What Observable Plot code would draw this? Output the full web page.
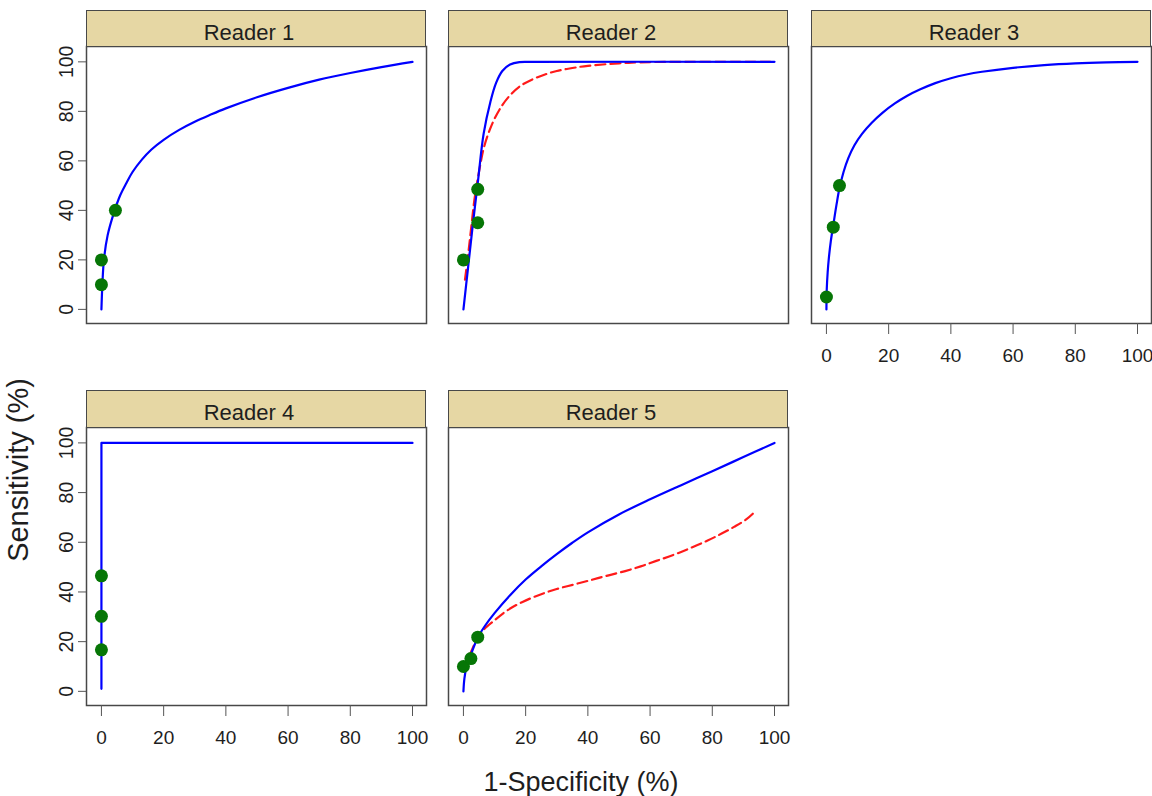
<!DOCTYPE html>
<html>
<head>
<meta charset="utf-8">
<script src="https://cdn.jsdelivr.net/npm/d3@7"></script>
<script src="https://cdn.jsdelivr.net/npm/@observablehq/plot@0.6"></script>
<style>
  body { margin: 0; background: #fff; font-family: "Liberation Sans", Arial, sans-serif; }
  #chart { position: relative; width: 1152px; height: 796px; overflow: hidden; background: #fff; }
  .panel { position: absolute; }
  .strip { position: absolute; box-sizing: border-box; background: #e6d7a4; border: 1.5px solid #484848;
           text-align: center; font-size: 22px; line-height: 22px; color: #1e1e1e; padding-top: 11px; padding-right: 14px; }
  .title { position: absolute; line-height: 30px; color: #1e1e1e; text-align: center; white-space: nowrap; }
</style>
</head>
<body>
<div id="chart"></div>
<script>
// ---------- data ----------
const readers = ["Reader 1", "Reader 2", "Reader 3", "Reader 4", "Reader 5"];
const xTicks = [0, 20, 40, 60, 80, 100];
const yTicks = [0, 20, 40, 60, 80, 100];
const xTitle = "1-Specificity (%)";
const yTitle = "Sensitivity (%)";

// solid blue curves [1-specificity, sensitivity]
const reader1Solid = [[0,0],[0.3,10],[0.8,20],[2,30],[4,39],[6,46],[8,51],[10,55.5],[13,60.5],[16,64.5],[20,68.5],[25,72.5],[30,75.8],[35,78.6],[40,81.2],[50,85.7],[60,89.5],[70,92.8],[80,95.5],[90,97.9],[100,100]];
const reader2Solid = [[0,0],[1.5,17],[3,34],[4.6,51],[6.5,71],[8.7,84],[10.5,91.5],[12.5,96.3],[15,98.9],[18,99.9],[22,100],[100,100]];
const reader3Solid = [[0,0],[0.1,8],[0.4,15],[0.8,21],[1.4,27.5],[2.2,34],[3.2,42],[4.2,49],[5.5,55.5],[7,61],[9,66.3],[11.5,71],[14.5,75.3],[18,79.4],[22,83.2],[26,86.3],[30,88.8],[35,91.4],[40,93.4],[45,94.9],[50,96],[60,97.6],[70,98.7],[80,99.4],[90,99.8],[100,100]];
const reader4Solid = [[0,1],[0,100],[100,100]];
const reader5Solid = [[0,0],[0.3,5],[1,10],[2.3,14.5],[4.6,21.6],[7,26.5],[10,31.5],[15,38.7],[20,45],[25,50.3],[30,55.2],[35,59.8],[40,64],[50,71.2],[60,77.3],[70,83],[80,88.6],[90,94.3],[100,100]];

// dashed red curves (visible only for readers 2 and 5)
const reader2Dashed = [[0.5,12],[1.5,22],[2.5,33],[3.5,44],[4.5,52],[5.5,59],[6.5,65],[8,71],[10,77],[12.5,82.5],[15,86.5],[18,90],[22,92.8],[26,94.8],[30,96.3],[35,97.5],[40,98.4],[50,99.4],[60,99.9],[100,100]];
const reader5Dashed = [[0.3,9],[1.5,13],[3,17.5],[4.6,21.5],[6.5,24.8],[9.7,28.3],[14,32.5],[19,36],[24.8,39],[30,41.2],[35.5,43],[41,44.8],[46,46.5],[52,48.4],[57,50.3],[62,52.5],[67.7,55],[73,57.7],[78.5,60.7],[83,63.5],[87,66.2],[91,69.3],[94.1,72.8]];

// observed operating points
const reader1Points = [[0,10],[0,20],[4.5,40]];
const reader2Points = [[0,20],[4.6,35],[4.6,48.5]];
const reader3Points = [[0,5],[2.2,33.2],[4.2,50]];
const reader4Points = [[0,16.7],[0,30.2],[0,46.5]];
const reader5Points = [[0,10],[2.4,13.2],[4.6,21.8]];

const solids = [reader1Solid, reader2Solid, reader3Solid, reader4Solid, reader5Solid];
const dashes = [null, reader2Dashed, null, null, reader5Dashed];
const points = [reader1Points, reader2Points, reader3Points, reader4Points, reader5Points];

// ---------- layout ----------
const colLeft = [86, 448, 811];
const rowStripTop = [10, 390];
const rowPlotTop = [46, 427];
const rowPlotH = [277, 278];
const panelW = 340;
const ML = 60, MR = 6, MT = 6, MB = 50;

const chart = document.getElementById("chart");

readers.forEach((name, i) => {
  const row = Math.floor(i / 3), col = i % 3;
  const showY = col === 0;
  const showX = (row === 1) || (i === 2);
  const marks = [];
  if (dashes[i]) {
    marks.push(Plot.line(dashes[i], {x: d => d[0], y: d => d[1], stroke: "#ff1a1a", strokeWidth: 2.2,
      strokeDasharray: "10,5", curve: "catmull-rom"}));
  }
  marks.push(Plot.line(solids[i], {x: d => d[0], y: d => d[1], stroke: "#0000ff", strokeWidth: 2.2,
    curve: i === 3 ? "linear" : "catmull-rom"}));
  marks.push(Plot.dot(points[i], {x: d => d[0], y: d => d[1], r: 6.5, fill: "#067606", stroke: "none"}));
  marks.push(Plot.frame({stroke: "#484848", strokeWidth: 1.5}));
  if (showY) marks.push(Plot.axisY(yTicks, {anchor: "left", tickSize: 8, tickPadding: 6, tickRotate: -90,
    label: null, fontSize: 19.5, stroke: "#555"}));
  if (showX) marks.push(Plot.axisX(xTicks, {anchor: "bottom", tickSize: 11, tickPadding: 14,
    label: null, fontSize: 19, stroke: "#555"}));

  const svg = Plot.plot({
    width: panelW + ML + MR,
    height: rowPlotH[row] + MT + MB,
    marginLeft: ML, marginRight: MR, marginTop: MT, marginBottom: MB,
    x: {domain: [-4.8, 104.5], axis: null},
    y: {domain: [-5.7, 106.2], axis: null},
    style: {fontFamily: "'Liberation Sans', Arial, sans-serif", fontSize: "19px", color: "#1e1e1e",
      background: "transparent", overflow: "visible"},
    marks
  });
  svg.classList.add("panel");
  svg.style.left = (colLeft[col] - ML) + "px";
  svg.style.top = (rowPlotTop[row] - MT) + "px";
  chart.appendChild(svg);

  const strip = document.createElement("div");
  strip.className = "strip";
  strip.style.left = colLeft[col] + "px";
  strip.style.top = rowStripTop[row] + "px";
  strip.style.width = panelW + "px";
  strip.style.height = (rowPlotTop[row] - rowStripTop[row] + 1) + "px";
  strip.textContent = name;
  chart.appendChild(strip);
});

const xt = document.createElement("div");
xt.className = "title";
xt.style.fontSize = "27px";
xt.style.left = "381px"; xt.style.top = "767px"; xt.style.width = "400px";
xt.textContent = xTitle;
chart.appendChild(xt);

const yt = document.createElement("div");
yt.className = "title";
yt.style.fontSize = "29px";
yt.style.left = (18 - 150) + "px"; yt.style.top = (470 - 15) + "px"; yt.style.width = "300px";
yt.style.transform = "rotate(-90deg)";
yt.textContent = yTitle;
chart.appendChild(yt);
</script>
</body>
</html>
